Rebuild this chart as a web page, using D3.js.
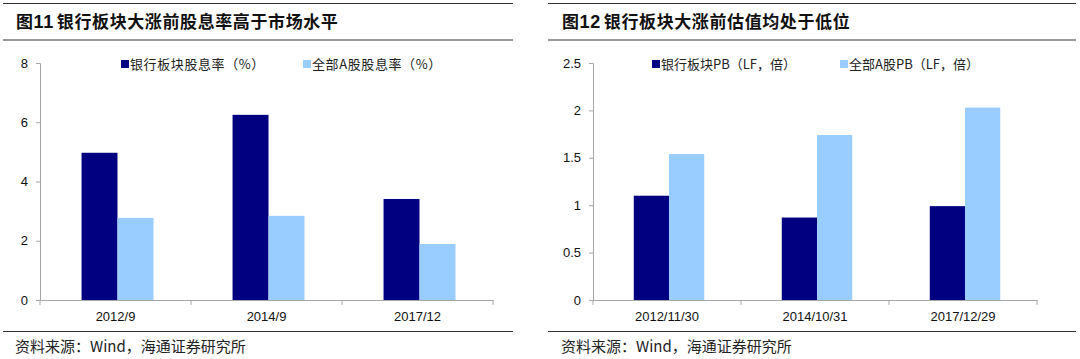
<!DOCTYPE html>
<html><head><meta charset="utf-8">
<script src="https://cdn.jsdelivr.net/npm/d3@7"></script>
<style>
html,body{margin:0;padding:0;background:#fff;}
svg{display:block;}
</style></head>
<body>
<svg id="c" width="1080" height="359"></svg>
<script>
// ---- data ----
const titles = ["图11 银行板块大涨前股息率高于市场水平", "图12 银行板块大涨前估值均处于低位"];
const source = "资料来源：Wind，海通证券研究所";

const cats1 = ["2012/9", "2014/9", "2017/12"];
const seriesNames1 = ["银行板块股息率（%）", "全部A股股息率（%）"];
const bank1 = [4.97, 6.25, 3.41];
const all1 = [2.77, 2.84, 1.89];
const yTicks1 = [0, 2, 4, 6, 8];

const cats2 = ["2012/11/30", "2014/10/31", "2017/12/29"];
const seriesNames2 = ["银行板块PB（LF，倍）", "全部A股PB（LF，倍）"];
const bank2 = [1.10, 0.87, 0.99];
const all2 = [1.54, 1.74, 2.03];
const yTicks2 = [0, 0.5, 1, 1.5, 2, 2.5];

const colors = ["#000080", "#99CCFF"];

const svg = d3.select("#c");
const cjk = "'Noto Sans CJK SC', 'Liberation Sans', sans-serif";
const latin = "'Liberation Sans', Arial, sans-serif";

function panel(o) {
  const g = svg.append("g");
  // frame lines
  g.append("line").attr("x1", o.fx0).attr("x2", o.fx1).attr("y1", 3.5).attr("y2", 3.5)
    .attr("stroke", "#333").attr("stroke-width", 1);
  g.append("line").attr("x1", o.fx0).attr("x2", o.fx1).attr("y1", 40).attr("y2", 40)
    .attr("stroke", "#999").attr("stroke-width", 2);
  g.append("line").attr("x1", o.fx0).attr("x2", o.fx1).attr("y1", 331.5).attr("y2", 331.5)
    .attr("stroke", "#333").attr("stroke-width", 1);
  // title
  const m = o.title.match(/^(图)(\d+)\s(.*)$/);
  const t = g.append("text").attr("x", o.tx).attr("y", 28)
    .attr("font-size", 17).attr("font-weight", 700).attr("fill", "#111")
    .attr("letter-spacing", 0.6);
  t.append("tspan").attr("font-family", cjk).text(m[1]);
  t.append("tspan").attr("font-family", latin).attr("font-size", 18).text(m[2]);
  t.append("tspan").attr("font-family", cjk).attr("dx", 3).text(m[3]);
  // source
  g.append("text").attr("x", o.tx - 1).attr("y", 352).attr("font-size", 15)
    .attr("font-family", cjk).attr("fill", "#222").text(o.source);

  const x = d3.scaleBand().domain(o.cats).range([o.x0, o.x1]).paddingInner(0).paddingOuter(0);
  const inner = d3.scaleBand().domain([0, 1]).range([0, x.bandwidth()]).paddingInner(0).paddingOuter(1.1);
  const y = d3.scaleLinear().domain([0, o.ymax]).range([300, 63]);

  // bars
  [o.s1, o.s2].forEach((vals, si) => {
    g.append("g").selectAll("rect").data(vals).join("rect")
      .attr("x", (d, i) => x(o.cats[i]) + inner(si) + 2)
      .attr("width", inner.bandwidth())
      .attr("y", d => y(d))
      .attr("height", d => y(0) - y(d))
      .attr("fill", colors[si]);
  });

  // y axis
  const ya = g.append("g").attr("transform", `translate(${o.x0},0)`)
    .call(d3.axisLeft(y).tickValues(o.yTicks).tickSize(4).tickPadding(8).tickFormat(d3.format("~g")));
  ya.select(".domain").attr("stroke", "#a6a6a6");
  ya.selectAll(".tick line").attr("stroke", "#a6a6a6");
  ya.selectAll("text").attr("font-family", latin).attr("font-size", 13).attr("fill", "#111");

  // x axis
  const xa = g.append("g").attr("transform", "translate(0,300)")
    .call(d3.axisBottom(x).tickSize(0).tickPadding(12));
  xa.select(".domain").attr("stroke", "#a6a6a6");
  xa.selectAll("text").attr("font-family", latin).attr("font-size", 13).attr("fill", "#111");
  // boundary ticks
  const bounds = o.cats.map(c => x(c)).concat([o.x1]);
  g.append("g").selectAll("line").data(bounds).join("line")
    .attr("x1", d => d).attr("x2", d => d).attr("y1", 300).attr("y2", 305)
    .attr("stroke", "#a6a6a6");

  // legend
  o.names.forEach((n, i) => {
    const lx = o.legX[i];
    g.append("rect").attr("x", lx).attr("y", 60).attr("width", 8).attr("height", 8).attr("fill", colors[i]);
    g.append("text").attr("x", lx + 9).attr("y", 69).attr("font-size", 13)
      .attr("letter-spacing", o.legLS)
      .attr("font-family", cjk).attr("fill", "#222").text(n);
  });
}

panel({ title: titles[0], source: source, fx0: 3, fx1: 513, tx: 16,
  cats: cats1, s1: bank1, s2: all1, names: seriesNames1, ymax: 8, yTicks: yTicks1,
  x0: 40, x1: 493, legX: [121, 303], legLS: 0.6 });
panel({ title: titles[1], source: source, fx0: 548, fx1: 1076, tx: 562,
  cats: cats2, s1: bank2, s2: all2, names: seriesNames2, ymax: 2.5, yTicks: yTicks2,
  x0: 593, x1: 1037, legX: [652, 840], legLS: 0 });
</script>
</body></html>
